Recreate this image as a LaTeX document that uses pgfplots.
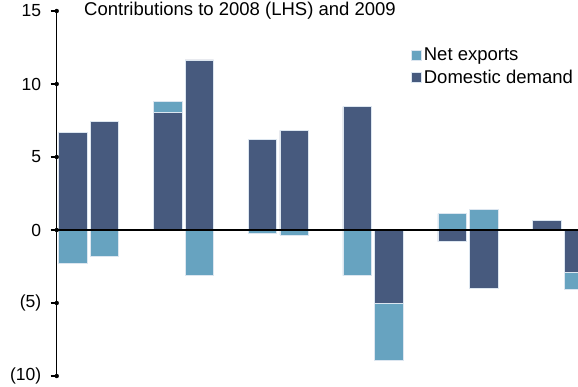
\documentclass[border=0pt]{standalone}
\usepackage{pgfplots}
\pgfplotsset{compat=1.18}
\usepackage{fontspec}
\setmainfont{Liberation Sans}
\definecolor{netexp}{HTML}{67A3C0}
\definecolor{domdem}{HTML}{475A7E}
\definecolor{baredge}{HTML}{DCE6F0}
\begin{document}
\begin{tikzpicture}
\begin{axis}[
  at={(0,0)}, anchor=south west,
  scale only axis, width=521.3bp, height=365bp,
  xmin=-0.337, xmax=5.162, ymin=-10, ymax=15,
  clip=false,
  axis y line*=left, axis x line=none,
  axis line style={black, line width=1pt},
  ytick={-10,-5,0,5,10,15},
  yticklabels={(10),(5),0,5,10,15},
  ytick pos=left,
  tick align=outside, major tick length=6bp,
  major tick style={black, line width=1.3pt},
  yticklabel style={font=\fontsize{17.5bp}{20bp}\selectfont, xshift=-6bp},
  bar shift=0pt, bar width=0.3,
  legend style={draw=none, fill=none, anchor=north west,
    at={(axis description cs:0.68,0.905)},
    font=\fontsize{18.5bp}{22bp}\selectfont, row sep=4bp,
    inner sep=0pt, nodes={inner sep=2bp}},
  legend cell align=left,
  legend image code/.code={\fill[#1] (0bp,-5bp) rectangle (10bp,5bp);},
]
% outer edge of the net exports segment
\addplot[ybar, fill=netexp, draw=baredge, line width=0.5pt] coordinates {
(-0.167,-2.27) (0.167,-1.82) (0.833,8.83) (1.167,-3.12)
(1.833,-0.23) (2.167,-0.33) (2.833,-3.12) (3.167,-8.93)
(3.833,1.13) (4.167,1.40) (4.833,0) (5.167,-4.09)};
\addlegendentry{Net exports}
% domestic demand
\addplot[ybar, fill=domdem, draw=baredge, line width=0.5pt] coordinates {
(-0.167,6.70) (0.167,7.45) (0.833,8.06) (1.167,11.66)
(1.833,6.20) (2.167,6.82) (2.833,8.45) (3.167,-5.02)
(3.833,-0.80) (4.167,-4.02) (4.833,0.65) (5.167,-2.91)};
\addlegendentry{Domestic demand}
% zero line
\addplot[sharp plot, black, line width=1.7pt, forget plot] coordinates {(-0.337,0) (5.162,0)};
% y tick marks drawn as short horizontal error bars at the axis
\addplot[only marks, mark=none, forget plot,
  error bars/.cd, x dir=minus, x explicit, error mark=none,
  error bar style={black, line width=1.3pt}]
  coordinates {
(-0.337,15) -= (0.065,0)
(-0.337,10) -= (0.065,0)
(-0.337,5) -= (0.065,0)
(-0.337,0) -= (0.065,0)
(-0.337,-5) -= (0.065,0)
(-0.337,-10) -= (0.065,0)};
\end{axis}
\node[anchor=base west, inner sep=0pt, font=\fontsize{18.5bp}{22bp}\selectfont] at (27.3bp,360bp) {Contributions to 2008 (LHS) and 2009};
\pgfresetboundingbox
\path[use as bounding box] (-56.7bp,-11bp) rectangle (521.3bp,376bp);
\end{tikzpicture}
\end{document}
